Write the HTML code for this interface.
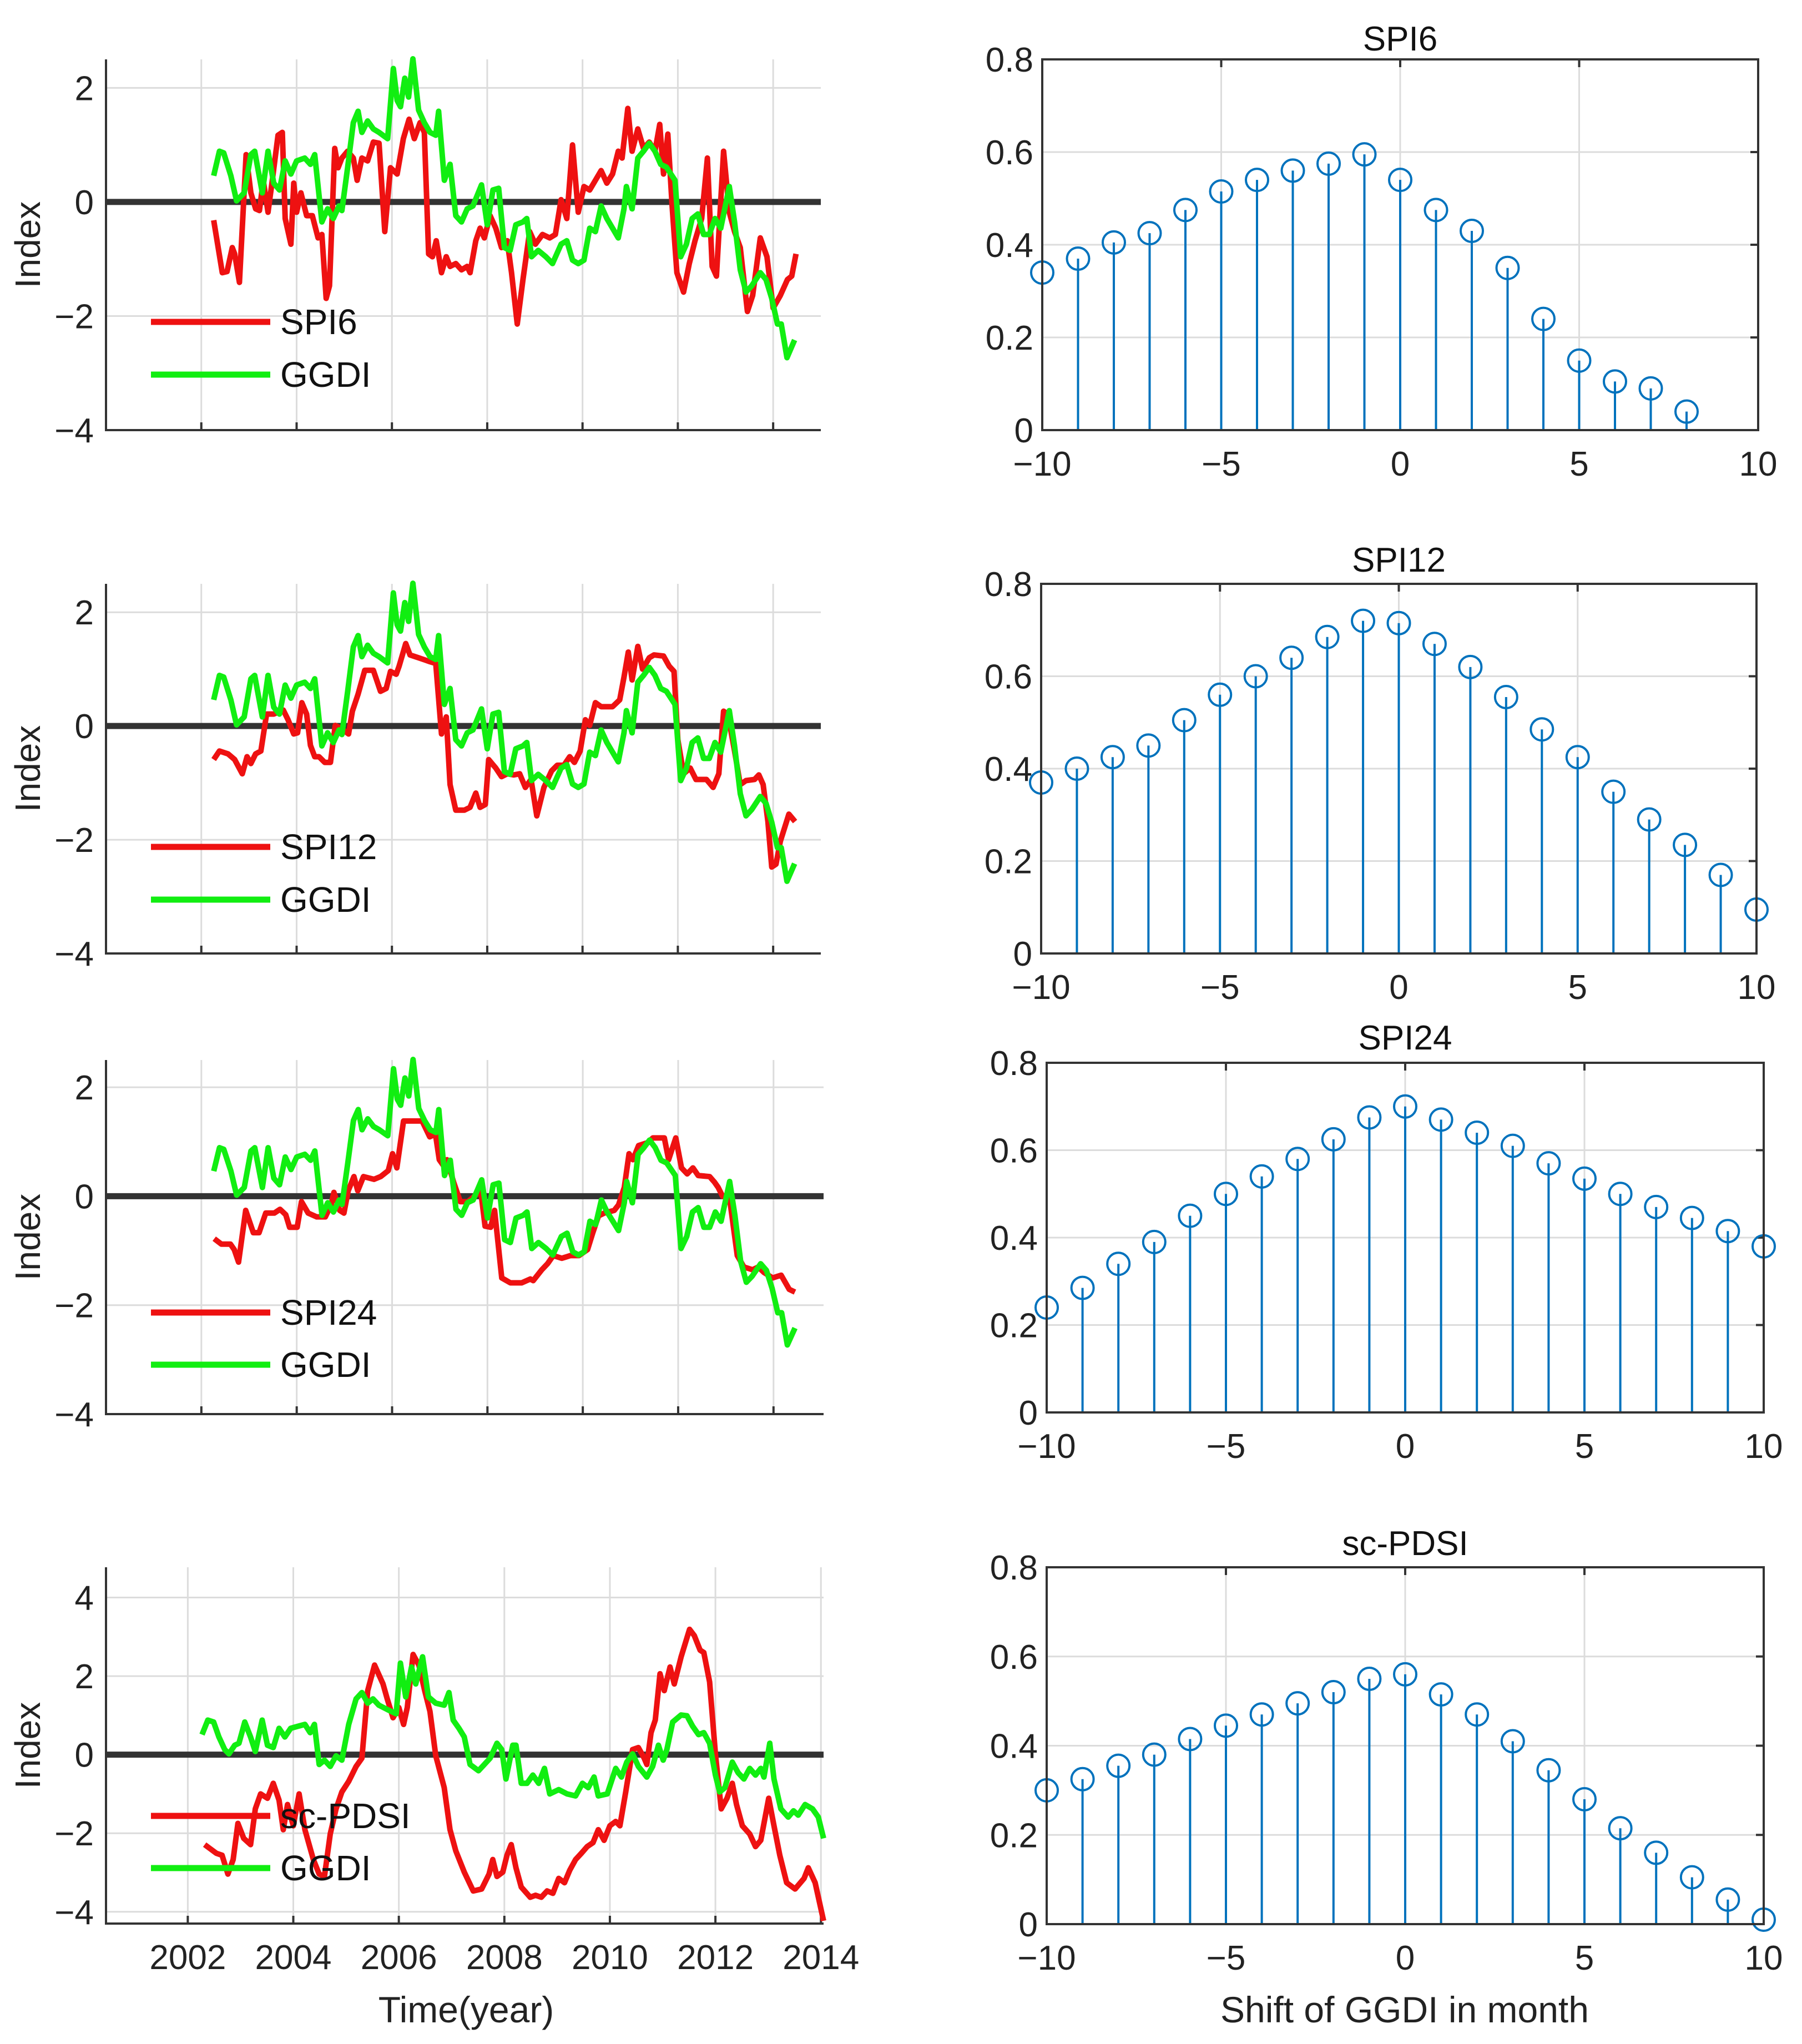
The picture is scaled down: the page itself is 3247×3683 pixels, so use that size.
<!DOCTYPE html>
<html><head><meta charset="utf-8"><style>
html,body{margin:0;padding:0;background:#fff;}
svg{display:block;font-family:"Liberation Sans",Arial,sans-serif;}
</style></head><body>
<svg id="fig" width="3247" height="3683" viewBox="0 0 3247 3683" xmlns="http://www.w3.org/2000/svg"></svg>
<script>
// ---------- data ----------
const ggdiYears=[2002.26,2002.38,2002.47,2002.62,2002.74,2002.90,2003.04,2003.12,2003.28,2003.40,2003.52,2003.64,2003.76,2003.88,2004.00,2004.17,2004.29,2004.38,2004.53,2004.65,2004.77,2004.89,2004.95,2005.07,2005.19,2005.29,2005.37,2005.49,2005.61,2005.73,2005.91,2006.03,2006.11,2006.18,2006.27,2006.35,2006.44,2006.56,2006.68,2006.80,2006.92,2006.98,2007.10,2007.22,2007.34,2007.46,2007.58,2007.70,2007.88,2008.00,2008.12,2008.24,2008.36,2008.48,2008.60,2008.75,2008.83,2008.93,2009.07,2009.23,2009.37,2009.55,2009.67,2009.79,2009.91,2010.03,2010.15,2010.27,2010.39,2010.51,2010.63,2010.75,2010.87,2010.92,2011.04,2011.16,2011.28,2011.40,2011.52,2011.64,2011.76,2011.94,2012.06,2012.18,2012.30,2012.42,2012.54,2012.66,2012.78,2012.90,2013.08,2013.19,2013.31,2013.43,2013.55,2013.73,2013.85,2013.97,2014.09,2014.17,2014.29,2014.45];
const ggdiValues=[0.46,0.89,0.86,0.46,0.02,0.16,0.83,0.89,0.16,0.89,0.33,0.21,0.72,0.49,0.72,0.77,0.66,0.83,-0.35,-0.12,-0.29,-0.07,-0.15,0.60,1.39,1.59,1.22,1.42,1.28,1.22,1.11,2.34,1.78,1.67,2.17,1.84,2.51,1.61,1.39,1.22,1.17,1.59,0.38,0.66,-0.24,-0.35,-0.12,-0.07,0.30,-0.40,0.21,0.24,-0.80,-0.85,-0.40,-0.35,-0.29,-0.96,-0.85,-0.96,-1.08,-0.74,-0.68,-1.02,-1.08,-1.02,-0.46,-0.52,-0.07,-0.29,-0.46,-0.63,-0.12,0.27,-0.12,0.77,0.89,1.03,0.89,0.66,0.61,0.38,-0.96,-0.74,-0.29,-0.21,-0.57,-0.57,-0.29,-0.46,0.27,-0.35,-1.19,-1.58,-1.47,-1.24,-1.36,-1.69,-2.14,-2.14,-2.73,-2.42];
const spi6Years=[2002.26,2002.44,2002.54,2002.65,2002.70,2002.80,2002.94,2003.04,2003.14,2003.22,2003.30,2003.40,2003.49,2003.61,2003.70,2003.76,2003.88,2003.94,2004.00,2004.09,2004.21,2004.33,2004.45,2004.53,2004.62,2004.69,2004.80,2004.87,2004.95,2005.07,2005.19,2005.27,2005.37,2005.49,2005.61,2005.73,2005.85,2005.97,2006.11,2006.24,2006.36,2006.47,2006.59,2006.68,2006.77,2006.85,2006.93,2007.04,2007.14,2007.22,2007.34,2007.46,2007.58,2007.64,2007.76,2007.85,2007.94,2008.06,2008.18,2008.30,2008.42,2008.51,2008.63,2008.75,2008.89,2009.01,2009.16,2009.31,2009.43,2009.55,2009.67,2009.79,2009.91,2010.03,2010.15,2010.27,2010.39,2010.51,2010.63,2010.75,2010.83,2010.95,2011.04,2011.16,2011.28,2011.40,2011.52,2011.62,2011.70,2011.79,2011.88,2011.98,2012.12,2012.24,2012.36,2012.50,2012.62,2012.72,2012.81,2012.96,2013.08,2013.19,2013.31,2013.46,2013.57,2013.73,2013.87,2014.00,2014.15,2014.30,2014.39,2014.48];
const spi6Values=[-0.32,-1.24,-1.22,-0.80,-0.91,-1.41,0.83,0.16,-0.12,-0.15,0.38,-0.18,0.38,1.17,1.22,-0.29,-0.74,0.33,-0.18,0.16,-0.24,-0.24,-0.63,-0.57,-1.69,-1.47,0.94,0.60,0.77,0.89,0.77,0.38,0.77,0.72,1.05,1.03,-0.52,0.60,0.49,1.11,1.45,1.11,1.39,1.22,-0.91,-0.96,-0.68,-1.24,-0.96,-1.13,-1.08,-1.19,-1.13,-1.24,-0.68,-0.46,-0.63,-0.24,-0.46,-0.80,-0.68,-1.24,-2.14,-1.36,-0.52,-0.74,-0.57,-0.63,-0.57,0.04,-0.29,1.00,-0.18,0.27,0.21,0.38,0.55,0.33,0.49,0.89,0.77,1.64,0.89,1.28,0.94,1.05,0.89,1.36,0.49,1.19,-0.07,-1.24,-1.58,-1.08,-0.68,-0.29,0.77,-1.13,-1.30,0.89,-0.18,-0.52,-0.80,-1.92,-1.64,-0.63,-0.96,-1.86,-1.64,-1.36,-1.30,-0.91];
const spi12Years=[2002.26,2002.38,2002.56,2002.70,2002.86,2002.96,2003.04,2003.14,2003.25,2003.37,2003.52,2003.72,2003.82,2003.94,2004.02,2004.11,2004.21,2004.29,2004.38,2004.47,2004.59,2004.71,2004.81,2004.93,2005.09,2005.17,2005.29,2005.43,2005.61,2005.76,2005.88,2005.97,2006.09,2006.15,2006.29,2006.38,2006.56,2006.80,2006.92,2007.04,2007.14,2007.22,2007.34,2007.52,2007.64,2007.76,2007.85,2007.96,2008.03,2008.18,2008.30,2008.42,2008.56,2008.68,2008.80,2008.92,2009.04,2009.19,2009.35,2009.47,2009.61,2009.73,2009.83,2009.95,2010.06,2010.15,2010.27,2010.39,2010.63,2010.78,2010.87,2010.96,2011.04,2011.16,2011.26,2011.40,2011.50,2011.70,2011.82,2011.92,2012.00,2012.12,2012.26,2012.38,2012.60,2012.74,2012.86,2012.96,2013.05,2013.19,2013.31,2013.43,2013.61,2013.70,2013.79,2013.89,2013.97,2014.06,2014.15,2014.33,2014.46];
const spi12Values=[-0.59,-0.44,-0.49,-0.59,-0.84,-0.54,-0.66,-0.49,-0.44,0.21,0.21,0.28,0.11,-0.14,-0.12,0.41,0.21,-0.34,-0.54,-0.54,-0.64,-0.64,0.01,-0.04,-0.14,0.26,0.56,0.98,0.98,0.61,0.66,0.96,0.91,1.05,1.45,1.25,1.20,1.13,1.10,-0.14,0.16,-1.03,-1.48,-1.48,-1.43,-1.18,-1.43,-1.38,-0.59,-0.74,-0.89,-0.84,-0.86,-0.84,-1.08,-0.94,-1.58,-1.08,-0.79,-0.69,-0.69,-0.54,-0.64,-0.44,0.11,0.01,0.41,0.34,0.34,0.46,0.86,1.30,0.81,1.40,1.00,1.20,1.25,1.23,1.05,0.96,-0.24,-0.84,-0.74,-0.94,-0.94,-1.08,-0.84,0.26,0.21,-0.44,-1.03,-0.96,-0.94,-0.86,-1.03,-1.68,-2.48,-2.43,-2.03,-1.55,-1.68];
const spi24Years=[2002.27,2002.42,2002.61,2002.69,2002.78,2002.93,2003.09,2003.21,2003.35,2003.53,2003.65,2003.77,2003.85,2004.01,2004.10,2004.24,2004.42,2004.60,2004.72,2004.78,2004.90,2004.99,2005.08,2005.20,2005.28,2005.40,2005.62,2005.76,2005.92,2006.01,2006.10,2006.24,2006.63,2006.79,2006.91,2006.99,2007.07,2007.15,2007.29,2007.43,2007.59,2007.77,2007.86,2007.95,2008.07,2008.15,2008.30,2008.48,2008.72,2008.90,2008.96,2009.14,2009.26,2009.38,2009.56,2009.74,2009.92,2010.10,2010.21,2010.33,2010.45,2010.66,2010.75,2010.87,2010.97,2011.05,2011.17,2011.35,2011.47,2011.71,2011.80,2011.95,2012.07,2012.19,2012.31,2012.42,2012.66,2012.76,2012.84,2012.93,2013.08,2013.24,2013.38,2013.56,2013.68,2013.80,2013.98,2014.16,2014.33,2014.45];
const spi24Values=[-0.78,-0.88,-0.88,-0.98,-1.21,-0.26,-0.67,-0.67,-0.31,-0.31,-0.24,-0.34,-0.57,-0.57,-0.10,-0.31,-0.38,-0.38,-0.16,0.07,-0.26,-0.31,0.10,0.36,0.10,0.36,0.31,0.36,0.47,0.78,0.52,1.38,1.38,1.09,1.14,0.67,0.57,0.67,0.26,-0.10,-0.10,0.03,0.10,-0.55,-0.57,-0.26,-1.50,-1.59,-1.59,-1.52,-1.55,-1.35,-1.24,-1.09,-1.14,-1.09,-1.09,-0.98,-0.67,-0.36,-0.31,-0.26,-0.16,0.16,0.78,0.67,0.93,0.98,1.07,1.07,0.67,1.07,0.52,0.41,0.52,0.38,0.36,0.26,0.16,0.00,-0.05,-1.09,-1.30,-1.35,-1.30,-1.40,-1.50,-1.45,-1.71,-1.76];
const ggdi4Years=[2002.27,2002.38,2002.49,2002.59,2002.70,2002.78,2002.89,2002.97,2003.08,2003.19,2003.28,2003.41,2003.51,2003.62,2003.73,2003.84,2003.95,2004.08,2004.22,2004.32,2004.40,2004.49,2004.59,2004.70,2004.81,2004.92,2005.05,2005.19,2005.30,2005.41,2005.51,2005.62,2005.78,2005.95,2006.03,2006.13,2006.24,2006.32,2006.45,2006.56,2006.70,2006.86,2006.95,2007.03,2007.14,2007.24,2007.35,2007.51,2007.62,2007.73,2007.86,2007.95,2008.03,2008.16,2008.22,2008.32,2008.43,2008.54,2008.65,2008.76,2008.86,2009.03,2009.19,2009.35,2009.48,2009.59,2009.70,2009.78,2009.95,2010.11,2010.22,2010.32,2010.43,2010.54,2010.70,2010.81,2010.92,2011.01,2011.08,2011.19,2011.35,2011.46,2011.57,2011.68,2011.78,2011.89,2012.00,2012.08,2012.18,2012.32,2012.43,2012.54,2012.65,2012.76,2012.86,2012.92,2013.03,2013.11,2013.24,2013.38,2013.48,2013.57,2013.70,2013.84,2013.95,2014.05];
const ggdi4Values=[0.51,0.88,0.83,0.45,0.13,0.02,0.24,0.29,0.83,0.45,0.08,0.88,0.24,0.18,0.67,0.45,0.67,0.72,0.77,0.56,0.77,-0.25,-0.14,-0.30,-0.03,-0.14,0.77,1.42,1.58,1.31,1.42,1.26,1.15,1.04,2.33,1.47,2.23,1.80,2.49,1.47,1.31,1.26,1.58,0.88,0.67,0.45,-0.25,-0.41,-0.25,-0.09,0.29,0.13,-0.62,0.24,0.24,-0.73,-0.73,-0.52,-0.73,-0.35,-1.00,-0.89,-1.00,-1.05,-0.73,-0.84,-0.57,-1.05,-1.00,-0.35,-0.57,-0.19,0.02,-0.30,-0.57,-0.30,0.24,-0.14,0.13,0.83,1.01,0.99,0.72,0.51,0.56,0.29,-0.52,-0.95,-0.84,-0.19,-0.46,-0.62,-0.35,-0.52,-0.35,-0.57,0.29,-0.62,-1.38,-1.59,-1.43,-1.54,-1.27,-1.38,-1.59,-2.13];
const pdsiYears=[2002.32,2002.43,2002.54,2002.65,2002.76,2002.86,2002.95,2003.06,2003.19,2003.28,2003.38,2003.51,2003.62,2003.73,2003.81,2003.89,2004.00,2004.11,2004.22,2004.38,2004.49,2004.59,2004.70,2004.81,2004.92,2005.05,2005.19,2005.30,2005.41,2005.54,2005.70,2005.78,2005.89,2006.00,2006.09,2006.16,2006.27,2006.38,2006.49,2006.59,2006.70,2006.86,2006.97,2007.08,2007.24,2007.41,2007.57,2007.71,2007.78,2007.86,2007.97,2008.05,2008.13,2008.22,2008.32,2008.49,2008.59,2008.70,2008.81,2008.92,2009.03,2009.14,2009.24,2009.35,2009.46,2009.57,2009.68,2009.78,2009.89,2010.00,2010.11,2010.19,2010.30,2010.43,2010.54,2010.65,2010.70,2010.78,2010.86,2010.95,2011.03,2011.14,2011.22,2011.35,2011.51,2011.60,2011.71,2011.78,2011.89,2012.00,2012.11,2012.22,2012.32,2012.40,2012.51,2012.65,2012.76,2012.86,2013.01,2013.11,2013.22,2013.35,2013.51,2013.68,2013.76,2013.89,2014.05];
const pdsiValues=[-2.29,-2.40,-2.51,-2.56,-3.04,-2.67,-1.75,-2.13,-2.29,-1.38,-1.00,-1.11,-0.73,-1.16,-1.91,-1.27,-1.81,-1.00,-1.91,-2.67,-3.04,-3.10,-2.02,-1.38,-0.95,-0.68,-0.30,-0.09,1.63,2.28,1.80,1.42,0.94,1.20,0.77,1.20,2.55,2.28,1.63,1.10,-0.03,-0.84,-1.91,-2.45,-2.99,-3.47,-3.42,-3.04,-2.67,-3.10,-2.99,-2.56,-2.29,-2.88,-3.37,-3.63,-3.58,-3.63,-3.47,-3.53,-3.15,-3.26,-2.94,-2.67,-2.51,-2.34,-2.24,-1.91,-2.18,-1.81,-1.70,-1.81,-0.95,0.13,0.18,-0.09,-0.25,0.56,0.88,2.06,1.63,2.23,1.80,2.49,3.19,3.03,2.66,2.60,1.85,0.02,-1.38,-1.11,-0.73,-1.27,-1.81,-2.02,-2.34,-2.18,-1.11,-1.81,-2.56,-3.26,-3.42,-3.15,-2.88,-3.26,-4.23];
const lags=[-10,-9,-8,-7,-6,-5,-4,-3,-2,-1,0,1,2,3,4,5,6,7,8,9,10];
const corrSpi6=[0.34,0.37,0.405,0.425,0.475,0.515,0.54,0.56,0.575,0.595,0.54,0.475,0.43,0.35,0.24,0.15,0.105,0.09,0.04];
const corrSpi12=[0.37,0.40,0.425,0.45,0.505,0.56,0.60,0.64,0.685,0.72,0.715,0.67,0.62,0.555,0.485,0.425,0.35,0.29,0.235,0.17,0.095];
const corrSpi24=[0.24,0.285,0.34,0.39,0.45,0.50,0.54,0.58,0.625,0.675,0.70,0.67,0.64,0.61,0.57,0.535,0.50,0.47,0.445,0.415,0.38];
const corrPdsi=[0.30,0.325,0.355,0.38,0.415,0.445,0.47,0.495,0.52,0.55,0.56,0.515,0.47,0.41,0.345,0.28,0.215,0.16,0.105,0.055,0.01];
const yearTicks=[2002,2004,2006,2008,2010,2012,2014];
const idxTicks=[-4,-2,0,2];
const idxTicks4=[-4,-2,0,2,4];
const lagTicks=[-10,-5,0,5,10];
const corrTicks=[0,0.2,0.4,0.6,0.8];

// ---------- helpers ----------
const NS="http://www.w3.org/2000/svg";
const svg=document.getElementById('fig');
function el(tag,attrs,parent,text){const e=document.createElementNS(NS,tag);for(const k in attrs)e.setAttribute(k,attrs[k]);if(text!==undefined)e.textContent=text;(parent||svg).appendChild(e);return e;}
function lin(d0,d1,r0,r1){return v=>r0+(v-d0)/(d1-d0)*(r1-r0);}
const FS=62;

function leftPanel(p){
  const g=el('g',{});
  
  
  const x=lin(p.xd[0],p.xd[1],p.L,p.R), y=lin(p.yd[0],p.yd[1],p.B,p.T);
  p.yt.forEach(v=>{const t=el('line',{x1:p.L,x2:p.R,y1:y(v),y2:y(v),stroke:'#dcdcdc','stroke-width':3},g);
    
    const lb=el('text',{x:p.L-22,y:y(v)+22,'text-anchor':'end','font-size':FS,fill:'#222'},g,String(v).replace('-','\u2212'));
    });
  yearTicks.forEach(v=>{const t=el('line',{x1:x(v),x2:x(v),y1:p.T,y2:p.B,stroke:'#dcdcdc','stroke-width':3},g);
    
    el('line',{x1:x(v),x2:x(v),y1:p.B,y2:p.B-14,stroke:'#333','stroke-width':4},g);
    if(p.labels){const lb=el('text',{x:x(v),y:p.B+82,'text-anchor':'middle','font-size':FS,fill:'#222'},g,String(v));
      }});
  const zero=el('line',{x1:p.L,x2:p.R,y1:y(0),y2:y(0),stroke:'#333','stroke-width':11},g);
  
  const mk=(xs,vs,col,nm)=>{const pl=el('polyline',{points:xs.map((t,i)=>x(t)+','+y(vs[i])).join(' '),fill:'none',stroke:col,'stroke-width':10,'stroke-linejoin':'round'},g);
    };
  mk(p.redX,p.redV,'#ee1111',p.redName+'-line');
  mk(p.grnX,p.grnV,'#11ee11','ggdi-line');
  const ax=el('path',{d:`M${p.L},${p.T}V${p.B}H${p.R}`,fill:'none',stroke:'#333','stroke-width':4},g);
  
  const yl=el('text',{x:0,y:0,transform:`translate(72,${(p.T+p.B)/2}) rotate(-90)`,'text-anchor':'middle','font-size':64,fill:'#222'},g,'Index');
  
  [[p.ly1,'#ee1111',p.redLabel],[p.ly2,'#11ee11','GGDI']].forEach(([ly,c,t])=>{
    const e=el('line',{x1:272,x2:487,y1:ly,y2:ly,stroke:c,'stroke-width':11},g);
    
    const tx=el('text',{x:505,y:ly+22,'font-size':64,fill:'#111'},g,t);
    });
}

function rightPanel(p){
  const g=el('g',{});
  
  
  const x=lin(-10,10,p.L,p.R), y=lin(0,0.8,p.B,p.T);
  corrTicks.forEach(v=>{const t=el('line',{x1:p.L,x2:p.R,y1:y(v),y2:y(v),stroke:'#dcdcdc','stroke-width':3},g);
    
    el('line',{x1:p.R,x2:p.R-14,y1:y(v),y2:y(v),stroke:'#333','stroke-width':4},g);
    const lb=el('text',{x:p.L-16,y:y(v)+22,'text-anchor':'end','font-size':FS,fill:'#222'},g,String(v));
    });
  lagTicks.forEach(v=>{const t=el('line',{x1:x(v),x2:x(v),y1:p.T,y2:p.B,stroke:'#dcdcdc','stroke-width':3},g);
    
    el('line',{x1:x(v),x2:x(v),y1:p.T,y2:p.T+14,stroke:'#333','stroke-width':4},g);
    const lb=el('text',{x:x(v),y:p.B+82,'text-anchor':'middle','font-size':FS,fill:'#222'},g,String(v).replace('-','\u2212'));
    });
  p.vals.forEach((v,i)=>{const l=lags[i];
    const s=el('line',{x1:x(l),x2:x(l),y1:y(0),y2:y(v),stroke:'#0072BD','stroke-width':4},g);
    
    const c=el('circle',{cx:x(l),cy:y(v),r:20,fill:'none',stroke:'#0072BD','stroke-width':4},g);
    });
  const bx=el('rect',{x:p.L,y:p.T,width:p.R-p.L,height:p.B-p.T,fill:'none',stroke:'#333','stroke-width':4},g);
  
  const tt=el('text',{x:(p.L+p.R)/2,y:p.ty+22,'text-anchor':'middle','font-size':62,fill:'#111'},g,p.title);
  
}

leftPanel({name:'spi6-timeseries',L:191,R:1479,T:107,B:775,xd:[2000,2015],yd:[-4,2.5],yt:idxTicks,labels:false,redX:spi6Years,redV:spi6Values,redName:'spi6',redLabel:'SPI6',grnX:ggdiYears,grnV:ggdiValues,ly1:580,ly2:675});
leftPanel({name:'spi12-timeseries',L:191,R:1479,T:1052,B:1718,xd:[2000,2015],yd:[-4,2.5],yt:idxTicks,labels:false,redX:spi12Years,redV:spi12Values,redName:'spi12',redLabel:'SPI12',grnX:ggdiYears,grnV:ggdiValues,ly1:1526,ly2:1621});
leftPanel({name:'spi24-timeseries',L:191,R:1484,T:1910,B:2548,xd:[2000,2015.05],yd:[-4,2.5],yt:idxTicks,labels:false,redX:spi24Years,redV:spi24Values,redName:'spi24',redLabel:'SPI24',grnX:ggdiYears,grnV:ggdiValues,ly1:2365,ly2:2459});
leftPanel({name:'scpdsi-timeseries',L:191,R:1484,T:2824,B:3466,xd:[2000.45,2014.05],yd:[-4.3,4.77],yt:idxTicks4,labels:true,redX:pdsiYears,redV:pdsiValues,redName:'scpdsi',redLabel:'sc-PDSI',grnX:ggdi4Years,grnV:ggdi4Values,ly1:3272,ly2:3366});
const xt=el('text',{x:840,y:3644,'text-anchor':'middle','font-size':66,fill:'#222'},svg,'Time(year)');


rightPanel({name:'spi6-correlation',L:1878,R:3168,T:107,B:775,vals:corrSpi6,title:'SPI6',ty:69});
rightPanel({name:'spi12-correlation',L:1876,R:3165,T:1052,B:1718,vals:corrSpi12,title:'SPI12',ty:1008});
rightPanel({name:'spi24-correlation',L:1886,R:3178,T:1915,B:2545,vals:corrSpi24,title:'SPI24',ty:1869});
rightPanel({name:'scpdsi-correlation',L:1886,R:3178,T:2824,B:3467,vals:corrPdsi,title:'sc-PDSI',ty:2780});
const xt2=el('text',{x:2531,y:3644,'text-anchor':'middle','font-size':66,fill:'#222'},svg,'Shift of GGDI in month');

</script>
</body></html>
